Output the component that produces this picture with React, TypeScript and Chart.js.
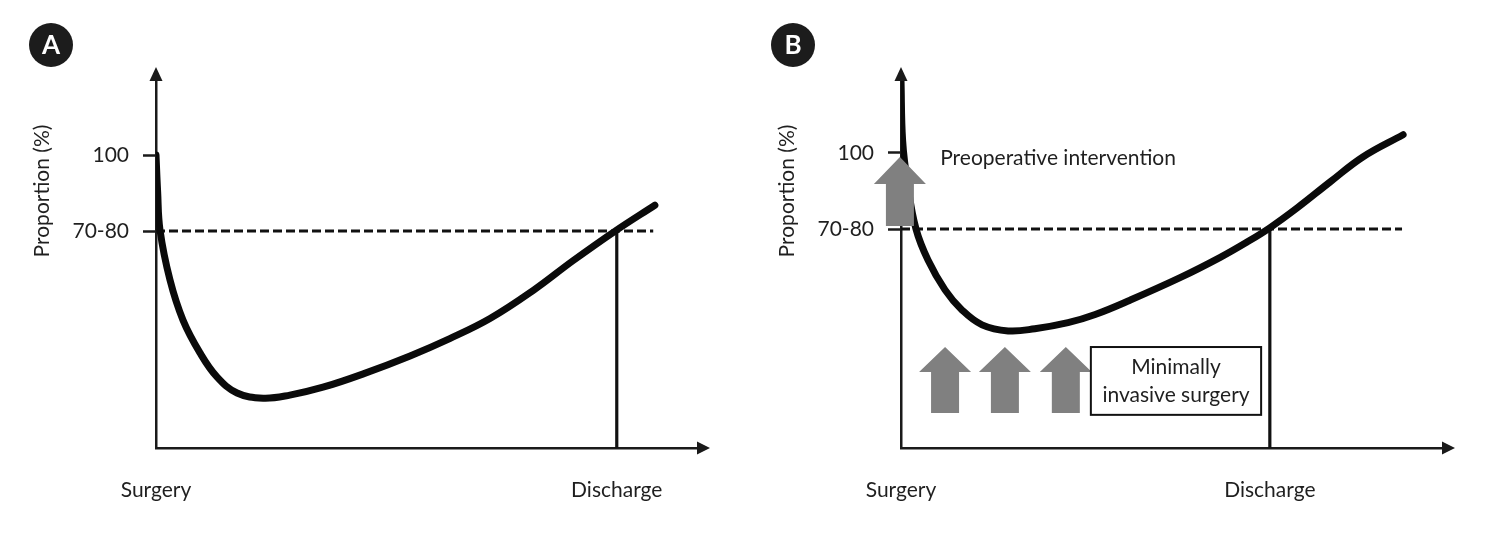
import React, { useEffect, useRef } from "react";
import { Chart, registerables } from "chart.js";

Chart.register(...registerables);

const FONT = "Lato, 'Liberation Sans', sans-serif";
const TEXT_COLOR = "#1f1f1f";

// Shared axis labels
const xTickLabels = ["Surgery", "Discharge"];
const yTickValues = [75, 100];
const yTickLabels = ["70-80", "100"];
const yAxisTitle = "Proportion (%)";
const thresholdValue = 75;

// Panel A data
const aCurveX = [0, 0.3, 0.74, 2.57, 4.96, 8.09, 11.2, 14.9, 19.7, 24.6, 30.7, 38.1, 46.7, 54.0, 61.4, 69.3, 76.7, 84.4, 91.7];
const aCurveY = [100, 88.0, 75.3, 58.9, 45.7, 34.9, 27.0, 21.7, 20.0, 21.0, 23.6, 28.0, 33.9, 39.6, 46.2, 55.4, 65.3, 75.0, 83.5];
const aDischargeX = 84.7;
const aThresholdEndX = 91.4;
const aYRange = [3.6, 124.7];

// Panel B data
const bCurveX = [0, 0.3, 1.2, 2.76, 4.96, 8.09, 11.2, 14.9, 19.7, 24.6, 30.7, 35.7, 42.1, 51.3, 58.6, 63.6, 67.8, 72.8, 78.9, 84.9, 92.3];
const bCurveY = [124.1, 104.0, 90.0, 75.0, 64.8, 55.0, 48.4, 43.5, 41.5, 42.2, 44.2, 46.9, 51.6, 59.0, 65.6, 70.7, 75.4, 81.9, 90.5, 98.7, 106.0];
const bDischargeX = 67.8;
const bThresholdEndX = 92.1;
const bYRange = [3.0, 124.0];

// Panel B annotations (data units)
const bArrowX = [-0.2, 8.1, 19.1, 30.3];
const bArrowTip = [98.7, 36.2, 36.2, 36.2];
const bArrowNeck = [89.8, 28.0, 28.0, 28.0];
const bArrowBase = [76.0, 14.5, 14.5, 14.5];
const bPreopText = "Preoperative intervention";
const bPreopPos = [7.2, 98.4];
const bBoxX = [34.9, 66.2];
const bBoxY = [13.9, 36.2];
const bBoxLines = ["Minimally", "invasive surgery"];
const bBoxLineY = [29.6, 20.4];

type PanelCfg = {
  letter: string;
  curveX: number[];
  curveY: number[];
  yRange: number[];
  dischargeX: number;
  thresholdEndX: number;
  extras: boolean;
};

const panels: PanelCfg[] = [
  { letter: "A", curveX: aCurveX, curveY: aCurveY, yRange: aYRange, dischargeX: aDischargeX, thresholdEndX: aThresholdEndX, extras: false },
  { letter: "B", curveX: bCurveX, curveY: bCurveY, yRange: bYRange, dischargeX: bDischargeX, thresholdEndX: bThresholdEndX, extras: true },
];

function makePlugin(cfg: PanelCfg) {
  return {
    id: "decor" + cfg.letter,
    afterDatasetsDraw(chart: any) {
      if (!cfg.extras) return;
      const { ctx } = chart;
      const x = chart.scales.x;
      const y = chart.scales.y;
      ctx.save();
      ctx.fillStyle = "#808080";
      for (let i = 0; i < bArrowX.length; i++) {
        const cx = x.getPixelForValue(bArrowX[i]);
        const tip = y.getPixelForValue(bArrowTip[i]);
        const neck = y.getPixelForValue(bArrowNeck[i]);
        const base = y.getPixelForValue(bArrowBase[i]);
        ctx.beginPath();
        ctx.moveTo(cx, tip);
        ctx.lineTo(cx + 26, neck);
        ctx.lineTo(cx + 14, neck);
        ctx.lineTo(cx + 14, base);
        ctx.lineTo(cx - 14, base);
        ctx.lineTo(cx - 14, neck);
        ctx.lineTo(cx - 26, neck);
        ctx.closePath();
        ctx.fill();
      }
      // box
      const bx0 = x.getPixelForValue(bBoxX[0]);
      const bx1 = x.getPixelForValue(bBoxX[1]);
      const by0 = y.getPixelForValue(bBoxY[1]);
      const by1 = y.getPixelForValue(bBoxY[0]);
      ctx.fillStyle = "#ffffff";
      ctx.fillRect(bx0, by0, bx1 - bx0, by1 - by0);
      ctx.strokeStyle = "#111";
      ctx.lineWidth = 2;
      ctx.strokeRect(bx0, by0, bx1 - bx0, by1 - by0);
      ctx.fillStyle = TEXT_COLOR;
      ctx.font = "21px " + FONT;
      ctx.textAlign = "center";
      ctx.textBaseline = "middle";
      const bcx = (bx0 + bx1) / 2;
      bBoxLines.forEach((t, i) => ctx.fillText(t, bcx, y.getPixelForValue(bBoxLineY[i])));
      ctx.textAlign = "left";
      ctx.fillText(bPreopText, x.getPixelForValue(bPreopPos[0]), y.getPixelForValue(bPreopPos[1]));
      ctx.restore();
    },
    afterDraw(chart: any) {
      const { ctx, chartArea } = chart;
      const { left, right, top, bottom } = chartArea;
      ctx.save();
      ctx.fillStyle = "#1a1a1a";
      // y arrow
      ctx.beginPath();
      ctx.moveTo(left, top - 13);
      ctx.lineTo(left + 6.5, top + 1);
      ctx.lineTo(left - 6.5, top + 1);
      ctx.closePath();
      ctx.fill();
      // x arrow
      ctx.beginPath();
      ctx.moveTo(right + 10, bottom);
      ctx.lineTo(right - 3, bottom - 6.5);
      ctx.lineTo(right - 3, bottom + 6.5);
      ctx.closePath();
      ctx.fill();
      // y title
      ctx.fillStyle = TEXT_COLOR;
      ctx.font = "21px " + FONT;
      ctx.textAlign = "center";
      ctx.textBaseline = "middle";
      ctx.translate(left - 114, top + 111);
      ctx.rotate(-Math.PI / 2);
      ctx.fillText(yAxisTitle, 0, 0);
      ctx.restore();
      // panel letter
      const cx = cfg.letter === "A" ? 51 : 48;
      ctx.save();
      ctx.fillStyle = "#1c1c1c";
      ctx.beginPath();
      ctx.arc(cx, 45, 22, 0, Math.PI * 2);
      ctx.fill();
      ctx.fillStyle = "#ffffff";
      ctx.font = "bold 26px " + FONT;
      ctx.textAlign = "center";
      ctx.textBaseline = "middle";
      ctx.fillText(cfg.letter, cx, 46);
      ctx.restore();
    },
  };
}

function Panel({ cfg, left }: { cfg: PanelCfg; left: number }) {
  const ref = useRef<HTMLCanvasElement | null>(null);
  useEffect(() => {
    if (!ref.current) return;
    const [yMin, yMax] = cfg.yRange;
    const xTickValues = [0, cfg.dischargeX];
    const chart = new Chart(ref.current, {
      type: "line",
      data: {
        datasets: [
          {
            data: cfg.curveX.map((v, i) => ({ x: v, y: cfg.curveY[i] })),
            borderColor: "#0a0a0a",
            borderWidth: 7,
            pointRadius: 0,
            tension: 0.4,
            borderCapStyle: "round",
            borderJoinStyle: "round",
            fill: false,
          },
          {
            data: [
              { x: 0, y: thresholdValue },
              { x: cfg.thresholdEndX, y: thresholdValue },
            ],
            borderColor: "#111",
            borderWidth: 3,
            borderDash: [9, 4],
            pointRadius: 0,
            fill: false,
          },
          {
            data: [
              { x: cfg.dischargeX, y: yMin },
              { x: cfg.dischargeX, y: thresholdValue },
            ],
            borderColor: "#111",
            borderWidth: 3.2,
            pointRadius: 0,
            fill: false,
          },
        ],
      },
      options: {
        responsive: false,
        animation: false,
        events: [],
        layout: { padding: { left: 0, top: 80, right: 45, bottom: 0 } },
        plugins: { legend: { display: false }, tooltip: { enabled: false } },
        scales: {
          x: {
            type: "linear",
            min: 0,
            max: 100,
            afterFit: (s: any) => {
              s.height = 86;
            },
            afterBuildTicks: (s: any) => {
              s.ticks = xTickValues.map((v) => ({ value: v }));
            },
            grid: { display: false, drawTicks: false },
            border: { display: true, color: "#1a1a1a", width: 2.5 },
            ticks: {
              autoSkip: false,
              maxRotation: 0,
              padding: 30,
              color: TEXT_COLOR,
              font: { family: FONT, size: 21 },
              callback: (v: any) => xTickLabels[xTickValues.indexOf(v)] ?? "",
            },
          },
          y: {
            type: "linear",
            min: yMin,
            max: yMax,
            afterFit: (s: any) => {
              s.width = 156;
            },
            afterBuildTicks: (s: any) => {
              s.ticks = yTickValues.map((v) => ({ value: v }));
            },
            grid: {
              display: true,
              drawOnChartArea: false,
              drawTicks: true,
              tickLength: 13,
              tickColor: "#1a1a1a",
              tickWidth: 2.5,
            },
            border: { display: true, color: "#1a1a1a", width: 2.5 },
            ticks: {
              autoSkip: false,
              padding: 14,
              color: TEXT_COLOR,
              font: { family: FONT, size: 21 },
              callback: (v: any) => yTickLabels[yTickValues.indexOf(v)] ?? "",
            },
          },
        },
      } as any,
      plugins: [makePlugin(cfg)],
    });
    return () => chart.destroy();
  }, [cfg]);
  return (
    <canvas
      ref={ref}
      width={745}
      height={534}
      style={{ position: "absolute", left, top: 0, width: 745, height: 534, display: "block" }}
    />
  );
}

export default function App() {
  return (
    <div style={{ position: "absolute", left: 0, top: 0, width: 1491, height: 534, background: "#ffffff", overflow: "hidden" }}>
      <Panel cfg={panels[0]} left={0} />
      <Panel cfg={panels[1]} left={745} />
    </div>
  );
}
